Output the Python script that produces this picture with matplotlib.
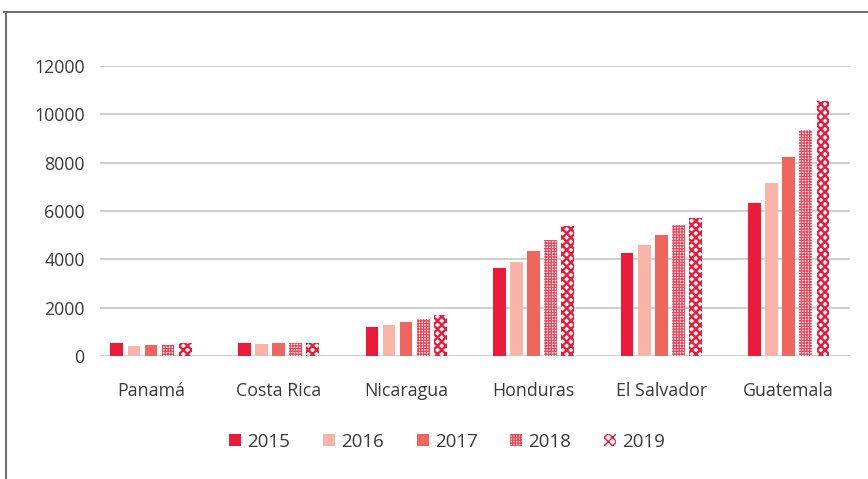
import matplotlib.pyplot as plt
import numpy as np
from matplotlib.lines import Line2D

plt.rcParams['font.family'] = ['Open Sans', 'DejaVu Sans']

countries = ['Panamá', 'Costa Rica', 'Nicaragua', 'Honduras', 'El Salvador', 'Guatemala']
years = ['2015', '2016', '2017', '2018', '2019']
v2015 = [525, 550, 1200, 3640, 4270, 6330]
v2016 = [415, 510, 1280, 3890, 4590, 7160]
v2017 = [455, 550, 1400, 4340, 5000, 8230]
v2018 = [455, 525, 1550, 4800, 5420, 9350]
v2019 = [525, 525, 1700, 5380, 5700, 10550]
values = [v2015, v2016, v2017, v2018, v2019]

red = '#ED1B3A'
styles = [
    dict(color=red),
    dict(color='#F8B4A6'),
    dict(color='#F0655C'),
    dict(facecolor='white', edgecolor='#F04458', hatch='++++++', linewidth=0),
    dict(facecolor='white', edgecolor=red, hatch='xxxx', linewidth=0),
]
hatch_lw = [1, 1, 1, 0.9, 1.7]

fig = plt.figure(figsize=(8.68, 4.79), dpi=100)
ax = fig.add_axes([100 / 868, 1 - 356 / 479, 750 / 868, 290 / 479])

x = np.arange(len(countries))
w = 0.1
step = 0.134
for i, (yr, vals) in enumerate(zip(years, values)):
    with plt.rc_context({'hatch.linewidth': hatch_lw[i]}):
        ax.bar(x + (i - 2) * step, vals, w, label=yr, zorder=3, **styles[i])

ax.set_xlim(-0.4, 5.48)
ax.set_ylim(0, 12000)
ax.set_yticks(range(0, 12001, 2000))
ax.yaxis.grid(True, color='#D0D0D0', linewidth=1.5, zorder=0)
ax.set_xticks(x)
ax.set_xticklabels(countries)
ax.tick_params(length=0, labelsize=12.8, labelcolor='#3a3a3a')
ax.tick_params(axis='x', pad=19)
ax.tick_params(axis='y', pad=11)
for s in ax.spines.values():
    s.set_visible(False)

leg = ax.legend(loc='center', bbox_to_anchor=(0.463, -0.295), ncol=5, frameon=False,
                fontsize=13.5, handlelength=0.64, handleheight=0.64, columnspacing=1.75,
                handletextpad=0.32)
for t in leg.get_texts():
    t.set_color('#3a3a3a')

# outer frame lines
fig.add_artist(Line2D([4 / 868, 1], [1 - 12 / 479] * 2, color='#707070', linewidth=1.5))
fig.add_artist(Line2D([6 / 868] * 2, [0, 1 - 12 / 479], color='#707070', linewidth=1.5))

fig.savefig('out.png', dpi=100)
